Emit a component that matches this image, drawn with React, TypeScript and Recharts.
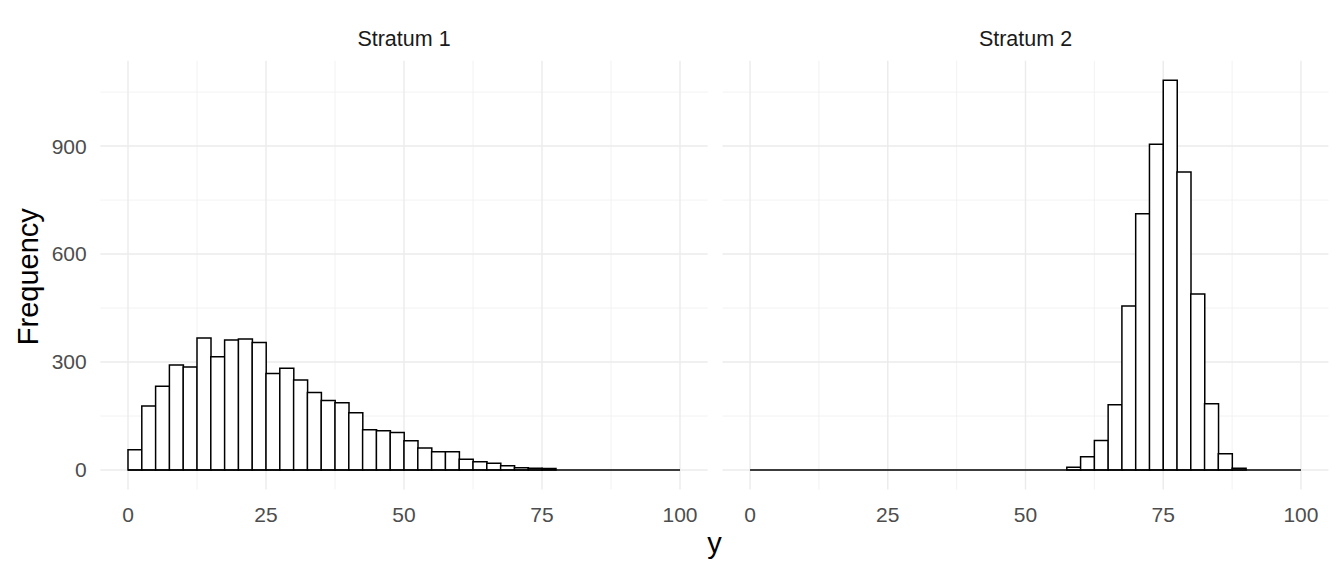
import React from 'react';
import { ComposedChart, Bar, XAxis, YAxis, CartesianGrid, ReferenceLine } from 'recharts';

const binCenters = [
  1.25, 3.75, 6.25, 8.75, 11.25, 13.75, 16.25, 18.75, 21.25, 23.75,
  26.25, 28.75, 31.25, 33.75, 36.25, 38.75, 41.25, 43.75, 46.25, 48.75,
  51.25, 53.75, 56.25, 58.75, 61.25, 63.75, 66.25, 68.75, 71.25, 73.75,
  76.25, 78.75, 81.25, 83.75, 86.25, 88.75, 91.25, 93.75, 96.25, 98.75,
];

const stratum1Counts = [
  56, 178, 233, 292, 286, 367, 315, 361, 364, 354,
  268, 283, 250, 215, 193, 187, 159, 112, 109, 104,
  81, 61, 51, 51, 30, 23, 19, 12, 6, 5,
  4, 0, 0, 0, 0, 0, 0, 0, 0, 0,
];

const stratum2Counts = [
  0, 0, 0, 0, 0, 0, 0, 0, 0, 0,
  0, 0, 0, 0, 0, 0, 0, 0, 0, 0,
  0, 0, 0, 8, 37, 82, 181, 456, 712, 905,
  1083, 828, 489, 184, 45, 5, 0, 0, 0, 0,
];

const panelTitles = ['Stratum 1', 'Stratum 2'];
const xTicks = [0, 25, 50, 75, 100];
const xMinorTicks = [12.5, 37.5, 62.5, 87.5];
const yTicks = [0, 300, 600, 900];
const yMinorTicks = [150, 450, 750, 1050];
const xTitle = 'y';
const yTitle = 'Frequency';

const yMax = Math.max(...stratum1Counts, ...stratum2Counts);
const yPad = yMax * 0.05;
const yDomain: [number, number] = [-yPad, yMax + yPad];
const xDomain: [number, number] = [-5, 105];

const FONT = "'Liberation Sans', Arial, sans-serif";

type PanelProps = {
  counts: number[];
  showY: boolean;
  width: number;
  marginLeft: number;
  marginRight: number;
  yAxisWidth: number;
};

function Panel({ counts, showY, width, marginLeft, marginRight, yAxisWidth }: PanelProps) {
  const data = binCenters.map((x, i) => ({ x, count: counts[i] }));
  return (
    <ComposedChart
      width={width}
      height={576}
      data={data}
      margin={{ top: 60.7, right: marginRight, bottom: 56.5, left: marginLeft }}
      barCategoryGap={0}
      barGap={0}
    >
      <CartesianGrid
        stroke="#EFEFEF"
        strokeWidth={0.8}
        horizontalValues={yMinorTicks}
        verticalValues={xMinorTicks}
      />
      <CartesianGrid
        stroke="#EBEBEB"
        strokeWidth={1.4}
        horizontalValues={yTicks}
        verticalValues={xTicks}
      />
      <XAxis
        dataKey="x"
        type="number"
        domain={xDomain}
        ticks={xTicks}
        interval={0}
        allowDataOverflow
        height={30}
        axisLine={false}
        tickLine={false}
        tickSize={0}
        tickMargin={18}
        tick={{ fill: '#4D4D4D', fontSize: 21, fontFamily: FONT }}
      />
      <YAxis
        type="number"
        domain={yDomain}
        ticks={yTicks}
        interval={0}
        allowDataOverflow
        hide={!showY}
        width={yAxisWidth}
        axisLine={false}
        tickLine={false}
        tickSize={0}
        tickMargin={13.7}
        tick={{ fill: '#4D4D4D', fontSize: 21, fontFamily: FONT }}
      />
      <Bar dataKey="count" fill="#FFFFFF" stroke="#000000" strokeWidth={1.5} isAnimationActive={false} />
      <ReferenceLine
        segment={[{ x: xTicks[0], y: 0 }, { x: xTicks[xTicks.length - 1], y: 0 }]}
        stroke="#000000"
        strokeWidth={1.5}
      />
    </ComposedChart>
  );
}

export default function App() {
  return (
    <div
      style={{
        position: 'absolute',
        left: 0,
        top: 0,
        width: 1344,
        height: 576,
        background: '#FFFFFF',
        fontFamily: FONT,
        overflow: 'hidden',
      }}
    >
      <div style={{ position: 'absolute', left: 0, top: 0 }}>
        <Panel counts={stratum1Counts} showY={true} width={720} marginLeft={0} marginRight={12.4} yAxisWidth={100.4} />
      </div>
      <div style={{ position: 'absolute', left: 715, top: 0 }}>
        <Panel counts={stratum2Counts} showY={false} width={629} marginLeft={7.5} marginRight={15.5} yAxisWidth={0} />
      </div>
      <svg
        width={1344}
        height={576}
        style={{ position: 'absolute', left: 0, top: 0, pointerEvents: 'none' }}
      >
        <text x={404} y={46} textAnchor="middle" fontSize={21.5} fill="#1A1A1A" fontFamily={FONT}>
          {panelTitles[0]}
        </text>
        <text x={1025.5} y={46} textAnchor="middle" fontSize={21.5} fill="#1A1A1A" fontFamily={FONT}>
          {panelTitles[1]}
        </text>
        <text x={714.5} y={553} textAnchor="middle" fontSize={29} fill="#000000" fontFamily={FONT}>
          {xTitle}
        </text>
        <text
          transform="translate(37.7, 276.7) rotate(-90)"
          textAnchor="middle"
          fontSize={29}
          fill="#000000"
          fontFamily={FONT}
        >
          {yTitle}
        </text>
      </svg>
    </div>
  );
}
